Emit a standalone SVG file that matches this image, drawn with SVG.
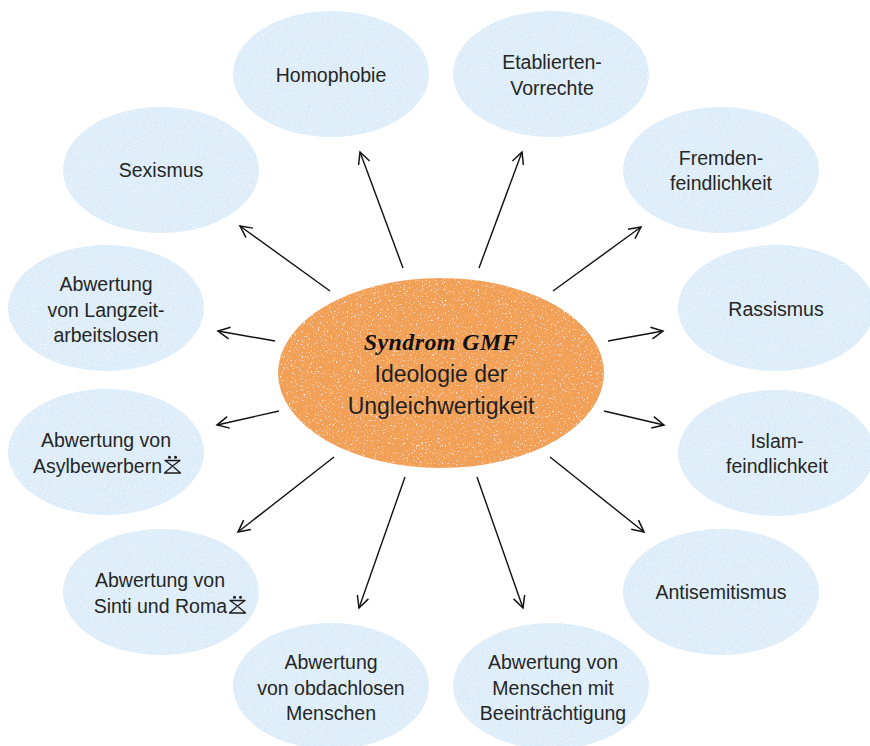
<svg xmlns="http://www.w3.org/2000/svg" width="870" height="746" viewBox="0 0 870 746">
  <style>
    .bubble { fill: #dcedf9; }
    .core { fill: #f1a057; }
    .lbl { font-family: "Liberation Sans", Arial, sans-serif; font-size: 19.5px; fill: #262626; text-anchor: middle; }
    .lbl-end { text-anchor: end; }
    .core-sub { font-family: "Liberation Sans", Arial, sans-serif; font-size: 23px; fill: #1f1f1f; text-anchor: middle; }
    .core-title { font-family: "Liberation Serif", "Times New Roman", serif; font-size: 24px; font-style: italic; font-weight: bold; fill: #111; text-anchor: middle; letter-spacing: 0.4px; }
    .arrow { stroke: #111; stroke-width: 1.4; fill: none; marker-end: url(#head); }
    .icon { fill: none; stroke: #1c1c1c; stroke-width: 1.3; stroke-linejoin: round; }
    .icon-dot { fill: #1c1c1c; }
  </style>
  <defs>
    <marker id="head" markerUnits="userSpaceOnUse" markerWidth="16" markerHeight="16" viewBox="-13 -7 15 14" refX="0" refY="0" orient="auto">
      <path d="M-11,-5.5 L0,0 L-11,5.5" fill="none" stroke="#111" stroke-width="1.4"/>
    </marker>
    <!-- paper grain: sparse light speckles inside the filled shape -->
    <filter id="grain" x="0" y="0" width="1" height="1">
      <feTurbulence type="fractalNoise" baseFrequency="0.55" numOctaves="2" seed="7" result="noise"/>
      <feColorMatrix in="noise" type="matrix" values="0 0 0 0 1  0 0 0 0 0.97  0 0 0 0 0.92  4 0 0 0 -2.45" result="specks"/>
      <feComposite in="specks" in2="SourceGraphic" operator="in" result="clipped"/>
      <feMerge><feMergeNode in="SourceGraphic"/><feMergeNode in="clipped"/></feMerge>
    </filter>
    <filter id="grain-soft" x="0" y="0" width="1" height="1">
      <feTurbulence type="fractalNoise" baseFrequency="0.7" numOctaves="2" seed="3" result="noise"/>
      <feColorMatrix in="noise" type="matrix" values="0 0 0 0 1  0 0 0 0 1  0 0 0 0 1  2 0 0 0 -1.05" result="specks"/>
      <feComposite in="specks" in2="SourceGraphic" operator="in" result="clipped"/>
      <feMerge><feMergeNode in="SourceGraphic"/><feMergeNode in="clipped"/></feMerge>
    </filter>
    <!-- small pictogram used after two labels -->
    <g id="pict">
      <circle class="icon-dot" cx="6.5" cy="1.2" r="1.5"/>
      <circle class="icon-dot" cx="12.5" cy="1.2" r="1.5"/>
      <path class="icon" d="M2,4.5 H17 L9.5,10 Z M9.5,10 L1.5,17 H17.5 Z"/>
    </g>
  </defs>

  <rect width="870" height="746" fill="#ffffff"/>

  <g id="connectors">
    <line class="arrow" x1="403" y1="268" x2="360" y2="152"/>
    <line class="arrow" x1="479" y1="268" x2="522" y2="152"/>
    <line class="arrow" x1="553" y1="291" x2="641" y2="227"/>
    <line class="arrow" x1="608" y1="341" x2="663" y2="331"/>
    <line class="arrow" x1="604" y1="411" x2="664" y2="425"/>
    <line class="arrow" x1="550" y1="457" x2="644" y2="532"/>
    <line class="arrow" x1="477" y1="477" x2="523" y2="608"/>
    <line class="arrow" x1="405" y1="477" x2="359" y2="608"/>
    <line class="arrow" x1="334" y1="457" x2="238" y2="532"/>
    <line class="arrow" x1="279" y1="411" x2="217" y2="425"/>
    <line class="arrow" x1="275" y1="341" x2="218" y2="331"/>
    <line class="arrow" x1="330" y1="291" x2="240" y2="226"/>
  </g>

  <g id="core">
    <ellipse class="core" cx="441" cy="373" rx="163" ry="95" filter="url(#grain)"/>
    <text class="core-title" x="441" y="350">Syndrom GMF</text>
    <text class="core-sub" x="441" y="382">Ideologie der</text>
    <text class="core-sub" x="441" y="414">Ungleichwertigkeit</text>
  </g>

  <g id="homophobie">
    <ellipse class="bubble" cx="331" cy="74" rx="98" ry="63" filter="url(#grain-soft)"/>
    <text class="lbl" x="331" y="82">Homophobie</text>
  </g>

  <g id="etablierten-vorrechte">
    <ellipse class="bubble" cx="551" cy="74" rx="98" ry="63" filter="url(#grain-soft)"/>
    <text class="lbl" x="552" y="69">Etablierten-</text>
    <text class="lbl" x="552" y="95">Vorrechte</text>
  </g>

  <g id="fremdenfeindlichkeit">
    <ellipse class="bubble" cx="721" cy="170" rx="98" ry="63" filter="url(#grain-soft)"/>
    <text class="lbl" x="721" y="165">Fremden-</text>
    <text class="lbl" x="721" y="190">feindlichkeit</text>
  </g>

  <g id="rassismus">
    <ellipse class="bubble" cx="776" cy="308" rx="98" ry="63" filter="url(#grain-soft)"/>
    <text class="lbl" x="776" y="316">Rassismus</text>
  </g>

  <g id="islamfeindlichkeit">
    <ellipse class="bubble" cx="776" cy="453" rx="98" ry="63" filter="url(#grain-soft)"/>
    <text class="lbl" x="777" y="448">Islam-</text>
    <text class="lbl" x="777" y="473">feindlichkeit</text>
  </g>

  <g id="antisemitismus">
    <ellipse class="bubble" cx="721" cy="592" rx="98" ry="63" filter="url(#grain-soft)"/>
    <text class="lbl" x="721" y="599">Antisemitismus</text>
  </g>

  <g id="beeintraechtigung">
    <ellipse class="bubble" cx="551" cy="686" rx="98" ry="63" filter="url(#grain-soft)"/>
    <text class="lbl" x="553" y="669">Abwertung von</text>
    <text class="lbl" x="553" y="695">Menschen mit</text>
    <text class="lbl" x="553" y="720">Beeinträchtigung</text>
  </g>

  <g id="obdachlose">
    <ellipse class="bubble" cx="331" cy="686" rx="98" ry="63" filter="url(#grain-soft)"/>
    <text class="lbl" x="331" y="669">Abwertung</text>
    <text class="lbl" x="331" y="695">von obdachlosen</text>
    <text class="lbl" x="331" y="720">Menschen</text>
  </g>

  <g id="sinti-roma">
    <ellipse class="bubble" cx="161" cy="592" rx="98" ry="63" filter="url(#grain-soft)"/>
    <text class="lbl" x="160" y="587">Abwertung von</text>
    <text class="lbl lbl-end" x="227" y="613">Sinti und Roma</text>
    <use href="#pict" x="228" y="596"/>
  </g>

  <g id="asylbewerber">
    <ellipse class="bubble" cx="106" cy="452" rx="98" ry="63" filter="url(#grain-soft)"/>
    <text class="lbl" x="106" y="447">Abwertung von</text>
    <text class="lbl lbl-end" x="162" y="473">Asylbewerbern</text>
    <use href="#pict" x="163" y="456"/>
  </g>

  <g id="langzeitarbeitslose">
    <ellipse class="bubble" cx="106" cy="308" rx="98" ry="63" filter="url(#grain-soft)"/>
    <text class="lbl" x="106" y="291">Abwertung</text>
    <text class="lbl" x="106" y="317">von Langzeit-</text>
    <text class="lbl" x="106" y="342">arbeitslosen</text>
  </g>

  <g id="sexismus">
    <ellipse class="bubble" cx="161" cy="170" rx="98" ry="63" filter="url(#grain-soft)"/>
    <text class="lbl" x="161" y="177">Sexismus</text>
  </g>
</svg>
